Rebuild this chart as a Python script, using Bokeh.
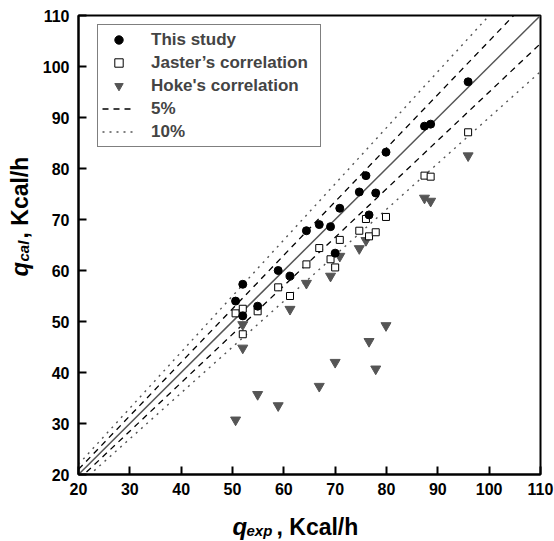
from bokeh.plotting import figure
from bokeh.models import Range1d, FixedTicker, Label, Legend, LegendItem
from bokeh.layouts import column, row
from bokeh.embed import file_html
from bokeh.resources import INLINE
import math

# ---- data ----
q_exp = [50.6, 52.0, 52.0, 54.9, 58.9, 61.2, 64.4, 66.9, 69.1, 70.0,
         70.9, 74.7, 76.0, 76.6, 77.9, 79.9, 87.4, 88.6, 95.9]
this_study = [54.0, 57.3, 51.1, 53.0, 60.0, 58.9, 67.8, 69.0, 68.6, 63.4,
              72.2, 75.4, 78.6, 70.9, 75.2, 83.2, 88.3, 88.7, 97.0]
jaster = [51.6, 52.5, 47.5, 52.0, 56.7, 55.0, 61.2, 64.4, 62.2, 60.6,
          66.0, 67.8, 70.1, 66.7, 67.5, 70.5, 78.6, 78.4, 87.1]
hoke = [30.7, 49.4, 44.8, 35.7, 33.5, 52.4, 57.5, 37.3, 58.9, 42.0,
        62.8, 64.3, 65.9, 46.1, 40.7, 49.2, 74.2, 73.6, 82.5]

ref_x = [20, 110]
band_5 = 0.05
band_10 = 0.10
ticks = [20, 30, 40, 50, 60, 70, 80, 90, 100, 110]

FONT = "Liberation Sans"

# ---- main plot ----
p = figure(width=520, height=504, output_backend="svg", toolbar_location=None,
           x_range=Range1d(20, 110), y_range=Range1d(20, 110),
           min_border_left=44, min_border_right=14, min_border_top=15,
           min_border_bottom=30)
p.grid.visible = False
p.outline_line_color = "black"
p.outline_line_width = 2
p.background_fill_color = "white"
p.border_fill_color = "white"

for ax in (p.xaxis[0], p.yaxis[0]):
    ax.ticker = FixedTicker(ticks=ticks)
    ax.major_tick_in = 8
    ax.major_tick_out = 0
    ax.minor_tick_in = 0
    ax.minor_tick_out = 0
    ax.major_tick_line_width = 2
    ax.axis_line_width = 2
    ax.major_label_text_font = FONT
    ax.major_label_text_font_style = "bold"
    ax.major_label_text_font_size = "16px"
    ax.major_label_text_color = "black"
p.xaxis.major_label_standoff = 8
p.yaxis.major_label_standoff = 9

# reference lines
r_one = p.line(ref_x, [v for v in ref_x], line_color="#555555", line_width=1.5)
r_5a = p.line(ref_x, [v * (1 + band_5) for v in ref_x], line_color="black",
              line_width=1.3, line_dash="6 5")
r_5b = p.line(ref_x, [v * (1 - band_5) for v in ref_x], line_color="black",
              line_width=1.3, line_dash="6 5")
r_10a = p.line(ref_x, [v * (1 + band_10) for v in ref_x], line_color="#555555",
               line_width=1.4, line_dash="2 5")
r_10b = p.line(ref_x, [v * (1 - band_10) for v in ref_x], line_color="#555555",
               line_width=1.4, line_dash="2 5")

r_hoke = p.scatter(q_exp, hoke, marker="inverted_triangle", size=10,
                   fill_color="#555555", line_color="#555555")
r_jas = p.scatter(q_exp, jaster, marker="square", size=7,
                  fill_color="white", line_color="black", line_width=1)
r_this = p.scatter(q_exp, this_study, marker="circle", size=8,
                   fill_color="black", line_color="black")

legend = Legend(items=[
    LegendItem(label="This study", renderers=[r_this]),
    LegendItem(label="Jaster\u2019s correlation", renderers=[r_jas]),
    LegendItem(label="Hoke's correlation", renderers=[r_hoke]),
    LegendItem(label="5%", renderers=[r_5a]),
    LegendItem(label="10%", renderers=[r_10a]),
], location=(19, 327))
legend.label_text_font = FONT
legend.label_text_font_style = "bold"
legend.label_text_font_size = "17px"
legend.glyph_width = 33
legend.glyph_height = 21
legend.label_height = 21
legend.label_width = 165
legend.label_standoff = 16
legend.spacing = 2
legend.padding = 4
legend.margin = 0
legend.border_line_color = "black"
legend.border_line_width = 1.5
legend.background_fill_alpha = 1
p.add_layout(legend)

lab = dict(x_units="screen", y_units="screen", text_font=FONT,
           text_color="black", text_baseline="alphabetic", text_align="left")


def blank(w, h):
    f = figure(width=w, height=h, output_backend="svg", toolbar_location=None,
               x_range=Range1d(0, w), y_range=Range1d(0, h),
               x_axis_location=None, y_axis_location=None,
               min_border=0, min_border_left=0, min_border_right=0,
               min_border_top=0, min_border_bottom=0)
    f.grid.visible = False
    f.outline_line_color = None
    f.background_fill_color = "white"
    f.border_fill_color = "white"
    return f


# ---- y axis title (q_cal , Kcal/h) ----
ylab = blank(34, 504)
ylab.add_layout(Label(x=19, y=198, text="q", text_font_size="24px", angle=math.pi / 2,
                      text_font_style="bold italic", **lab))
ylab.add_layout(Label(x=23, y=213, text="cal", text_font_size="15px", angle=math.pi / 2,
                      text_font_style="bold italic", **lab))
ylab.add_layout(Label(x=19, y=236, text=", Kcal/h", text_font_size="23px",
                      angle=math.pi / 2, text_font_style="bold", **lab))

# ---- x axis title (q_exp , Kcal/h) ----
xlab = blank(554, 37)
xlab.add_layout(Label(x=232, y=15, text="q", text_font_size="24px",
                      text_font_style="bold italic", **lab))
xlab.add_layout(Label(x=246, y=11, text="exp", text_font_size="15px",
                      text_font_style="bold italic", **lab))
xlab.add_layout(Label(x=276, y=15, text=", Kcal/h", text_font_size="23px",
                      text_font_style="bold", **lab))

layout = column(row(ylab, p, spacing=0), xlab, spacing=0)

open("out.html", "w").write(file_html(layout, INLINE))
